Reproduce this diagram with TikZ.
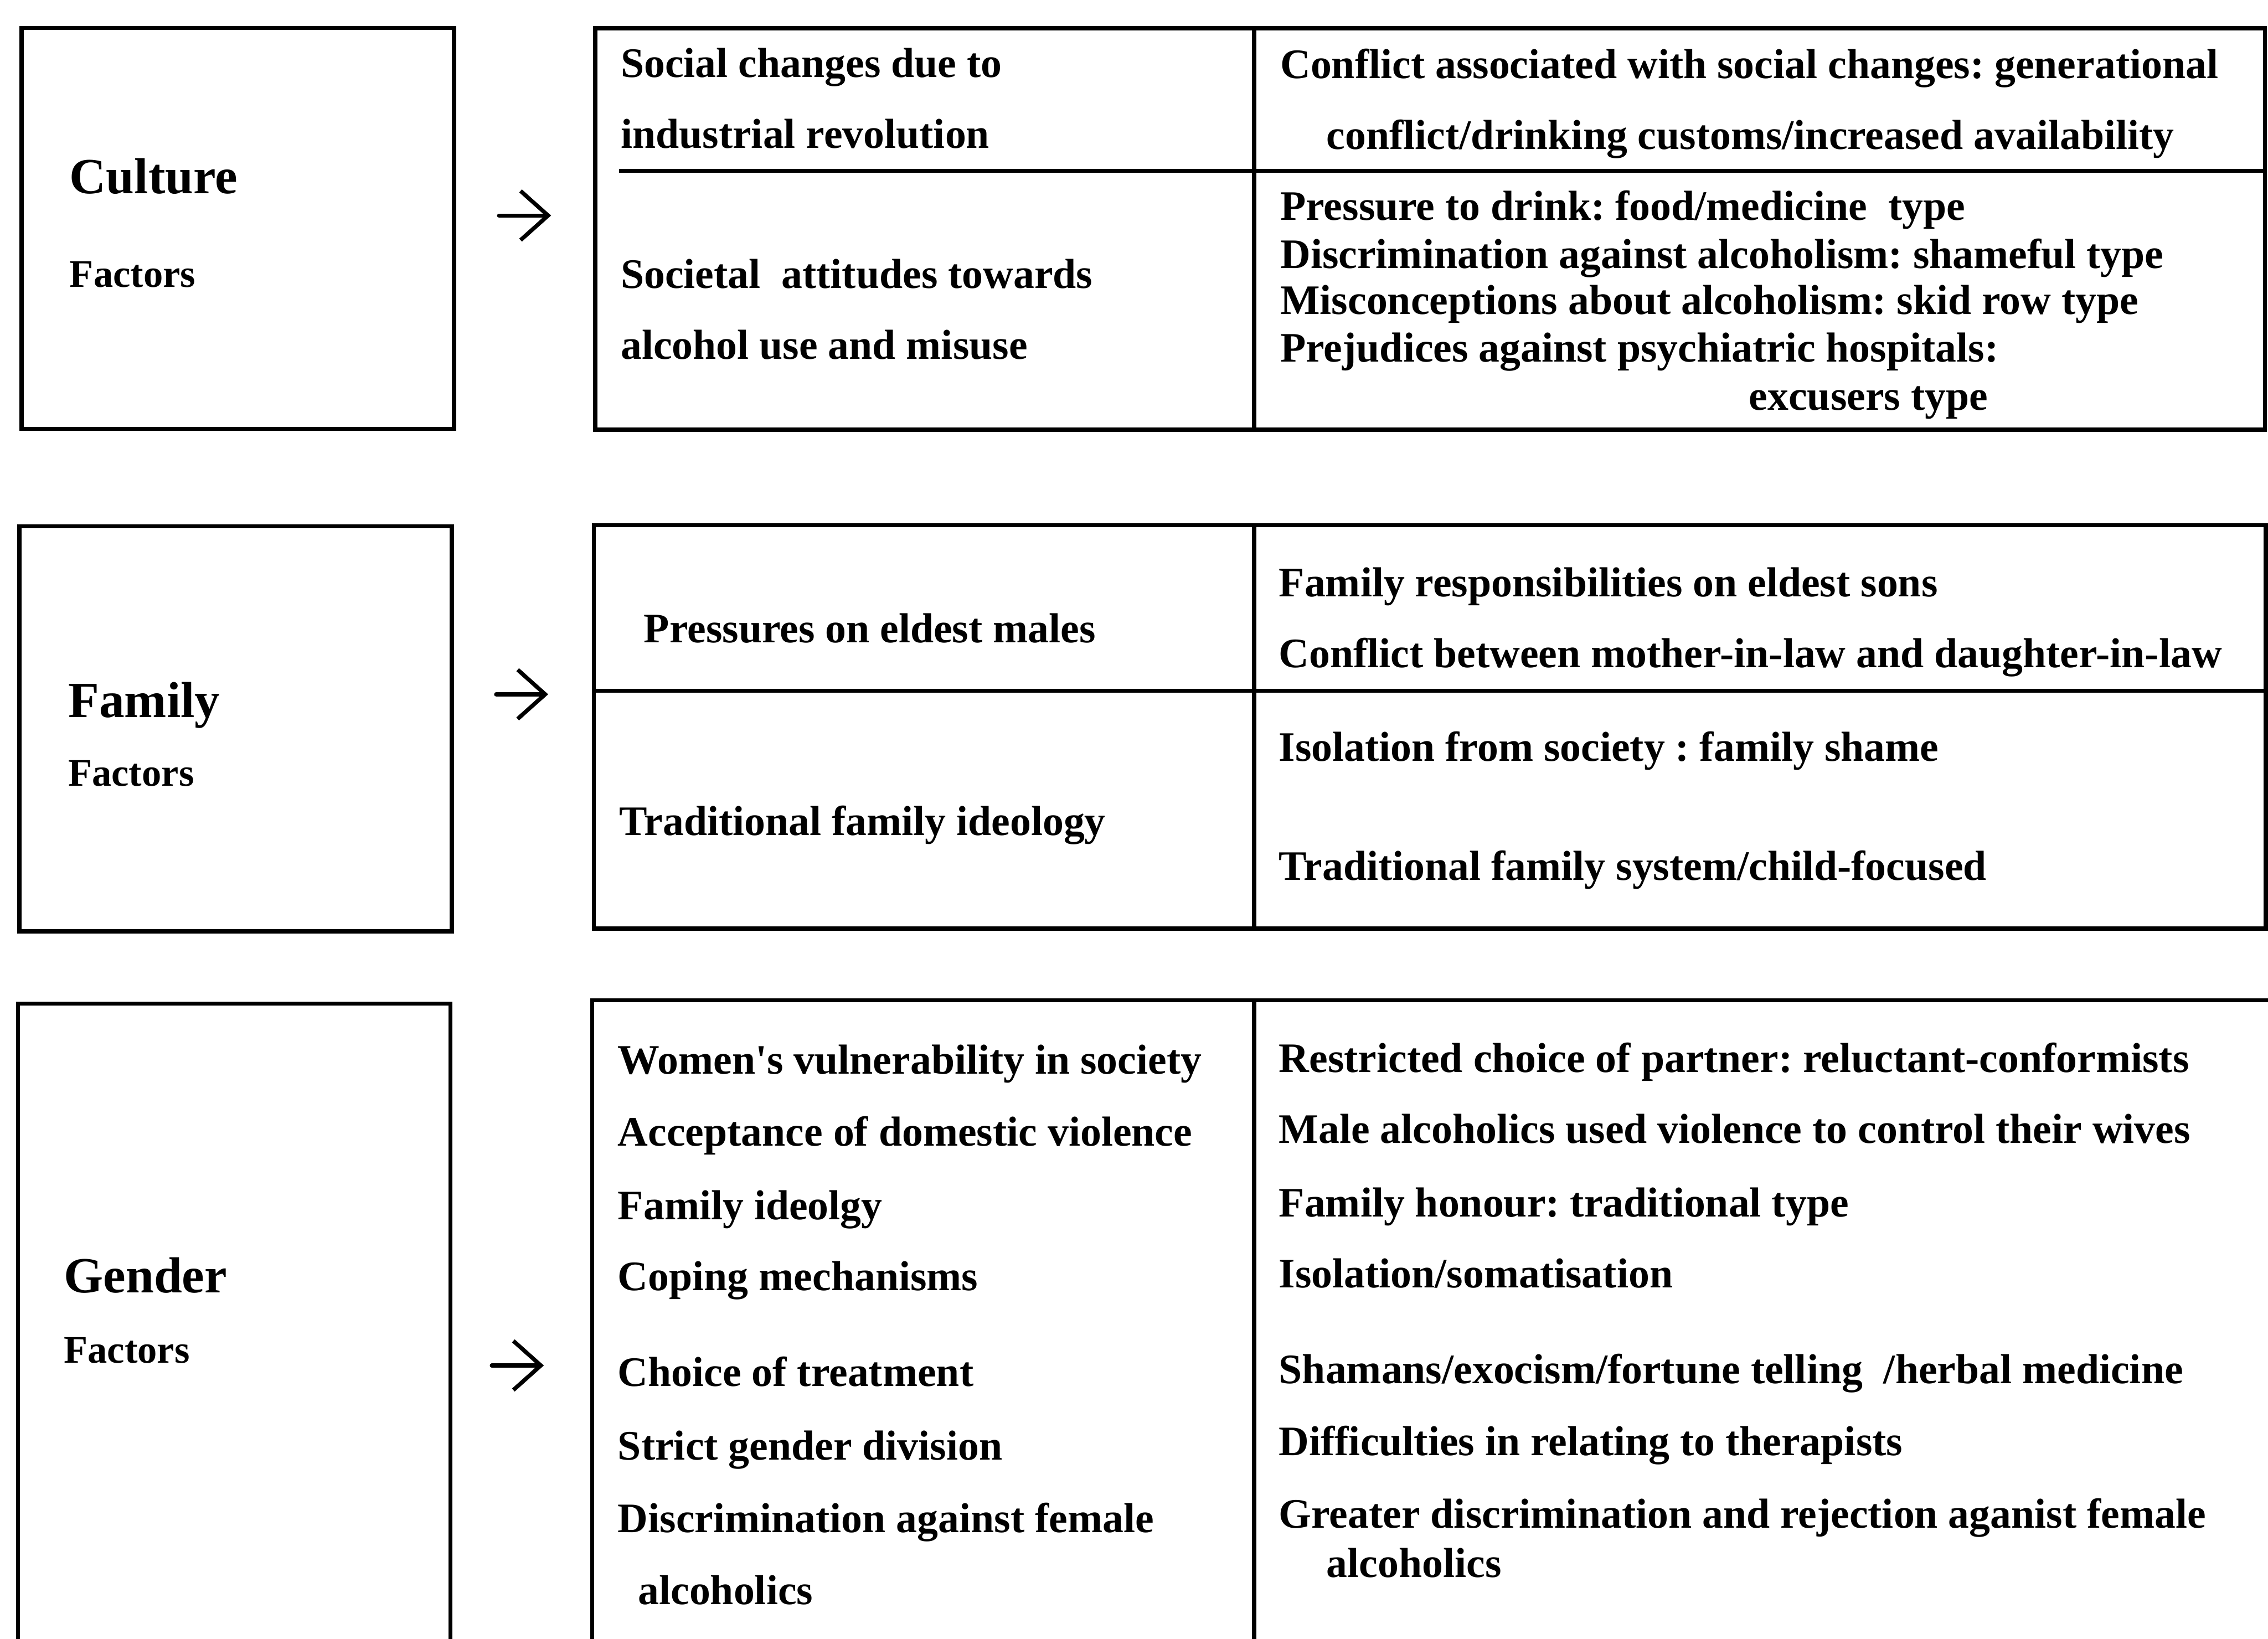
\documentclass[tikz,border=0pt]{standalone}
\usepackage{fontspec}
\setmainfont{Liberation Serif}
\usetikzlibrary{arrows.meta}
\frenchspacing

\begin{document}
\begin{tikzpicture}[
  x=1pt,
  y=-1pt,
  frame/.style={line width=2.8pt},
  factor/.style={draw, line width=2.8pt, anchor=north west, inner sep=0pt, minimum width=299pt},
  head/.style={anchor=mid west, inner sep=0pt, yshift=-9.5pt, font=\fontsize{35}{40}\selectfont\bfseries},
  sub/.style={anchor=mid west, inner sep=0pt, yshift=-6pt, font=\fontsize{27}{32}\selectfont\bfseries},
  item/.style={anchor=mid west, inner sep=0pt, yshift=-6pt, font=\fontsize{29}{34}\selectfont\bfseries},
  arrow/.style={-{Straight Barb[length=19pt,width=34pt]}, line width=2.8pt, line cap=round}
]
  \clip (0,0) rectangle (1568,1133);
  \fill[white] (0,0) rectangle (1568,1133);

  % factor boxes on the left
  \node[factor, minimum height=277pt] (culture) at (13.5,18) {};
  \node[factor, minimum height=280pt] (family) at (12,362.5) {};
  \node[factor, minimum height=480pt] (gender) at (11,692.5) {};

  \node[head] (culture-name) at (48,122) {Culture};
  \node[sub] (culture-sub) at (48,190) {Factors};
  \node[head] (family-name) at (47,484) {Family};
  \node[sub] (family-sub) at (47,535) {Factors};
  \node[head] (gender-name) at (44,882) {Gender};
  \node[sub] (gender-sub) at (44,934) {Factors};

  % arrows
  \foreach \n/\x/\y in {c/345/149,f/343/480,g/340/944} {
    \coordinate (\n-from) at (\x,\y);
    \coordinate (\n-to) at (\x+36,\y);
    \draw[arrow] (\n-from) -- (\n-to);
  }

  % tables
  \draw[frame] (411.5,19.5) rectangle (1566,297);
  \draw[frame] (867,19.5) -- (867,297);
  \draw[frame] (428,118) -- (1566,118);

  \draw[frame] (410.5,363) rectangle (1566.5,642);
  \draw[frame] (867,363) -- (867,642);
  \draw[frame] (410.5,477.5) -- (1566.5,477.5);

  \draw[frame] (409.5,1140) -- (409.5,691.5) -- (1570,691.5);
  \draw[frame] (867,691.5) -- (867,1140);

  % culture texts
  \foreach \x/\y/\txt [count=\i] in {
      429/45/{Social changes due to},
      429/94/{industrial revolution},
      429/191/{Societal~~attitudes towards},
      429/240/{alcohol use and misuse}}
    \node[item] (cl\i) at (\x,\y) {\txt};
  \foreach \x/\y/\txt [count=\i] in {
      885/46/{Conflict associated with social changes: generational},
      917/95/{conflict/drinking customs/increased availability},
      885/144/{Pressure to drink: food/medicine~~type},
      885/177/{Discrimination against alcoholism: shameful type},
      885/209/{Misconceptions about alcoholism: skid row type},
      885/242/{Prejudices against psychiatric hospitals:},
      1209/275/{excusers type}}
    \node[item] (cr\i) at (\x,\y) {\txt};

  % family texts
  \foreach \x/\y/\txt [count=\i] in {
      445/436/{Pressures on eldest males},
      428/569/{Traditional family ideology}}
    \node[item] (fl\i) at (\x,\y) {\txt};
  \foreach \x/\y/\txt [count=\i] in {
      884/404/{Family responsibilities on eldest sons},
      884/453/{Conflict between mother-in-law and daughter-in-law},
      884/518/{Isolation from society : family shame},
      884/600/{Traditional family system/child-focused}}
    \node[item] (fr\i) at (\x,\y) {\txt};

  % gender texts
  \foreach \x/\y/\txt [count=\i] in {
      427/734/{Women\textquotesingle s vulnerability in society},
      427/784/{Acceptance of domestic violence},
      427/835/{Family ideolgy},
      427/884/{Coping mechanisms},
      427/950/{Choice of treatment},
      427/1001/{Strict gender division},
      427/1051/{Discrimination against female},
      441/1101/{alcoholics}}
    \node[item] (gl\i) at (\x,\y) {\txt};
  \foreach \x/\y/\txt [count=\i] in {
      884/733/{Restricted choice of partner: reluctant-conformists},
      884/782/{Male alcoholics used violence to control their wives},
      884/833/{Family honour: traditional type},
      884/882/{Isolation/somatisation},
      884/948/{Shamans/exocism/fortune telling~~/herbal medicine},
      884/998/{Difficulties in relating to therapists},
      884/1048/{Greater discrimination and rejection aganist female},
      917/1082/{alcoholics}}
    \node[item] (gr\i) at (\x,\y) {\txt};
\end{tikzpicture}
\end{document}
